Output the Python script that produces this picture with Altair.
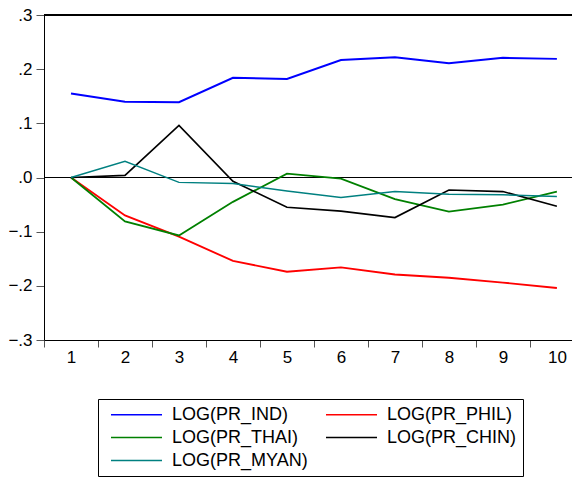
import altair as alt
import pandas as pd

periods = [1, 2, 3, 4, 5, 6, 7, 8, 9, 10]
ind = [0.155, 0.140, 0.139, 0.184, 0.182, 0.217, 0.222, 0.211, 0.221, 0.219]
phil = [0.0, -0.070, -0.109, -0.154, -0.174, -0.166, -0.179, -0.185, -0.194, -0.204]
thai = [0.0, -0.081, -0.107, -0.045, 0.007, -0.002, -0.040, -0.063, -0.050, -0.026]
chin = [0.0, 0.004, 0.096, -0.007, -0.055, -0.062, -0.074, -0.023, -0.026, -0.053]
myan = [0.0, 0.030, -0.009, -0.011, -0.025, -0.037, -0.026, -0.031, -0.032, -0.035]

series_names = ["LOG(PR_IND)", "LOG(PR_PHIL)", "LOG(PR_THAI)", "LOG(PR_CHIN)", "LOG(PR_MYAN)"]
series_values = [ind, phil, thai, chin, myan]
series_colors = ["#0000FF", "#FF0000", "#008000", "#000000", "#008080"]
series_widths = [2.0, 1.5, 1.5, 1.5, 1.5]
# legend is laid out column by column: column 1 = IND, THAI, MYAN; column 2 = PHIL, CHIN
legend_order = ["LOG(PR_IND)", "LOG(PR_THAI)", "LOG(PR_MYAN)", "LOG(PR_PHIL)", "LOG(PR_CHIN)"]
color_of = dict(zip(series_names, series_colors))

y_ticks = [-0.3, -0.2, -0.1, 0.0, 0.1, 0.2, 0.3]
x_boundaries = [0.5, 1.5, 2.5, 3.5, 4.5, 5.5, 6.5, 7.5, 8.5, 9.5]

rows = []
for k, (name, vals) in enumerate(zip(series_names, series_values)):
    for p, v in zip(periods, vals):
        rows.append({"period": p, "value": v, "series": name, "ord": k})
df = pd.DataFrame(rows)

FONT = "Liberation Sans"

x_scale = alt.Scale(domain=[0.5, 10.28], nice=False, zero=False)
y_scale = alt.Scale(domain=[-0.3, 0.3], nice=False, zero=False)

lines = alt.Chart(df).mark_line(clip=True).encode(
    x=alt.X("period:Q", scale=x_scale, title=None,
            axis=alt.Axis(values=x_boundaries, labelExpr="datum.value + 0.5",
                          labelOffset=27, labelFlush=False, labelOverlap=False,
                          tickSize=7, tickColor="#555555", domainColor="#000000",
                          labelFontSize=17, labelFont=FONT, labelColor="#000000",
                          labelPadding=2, grid=False)),
    y=alt.Y("value:Q", scale=y_scale, title=None,
            axis=alt.Axis(values=y_ticks,
                          labelExpr="replace(format(datum.value, '.1f'), '0.', '.')",
                          tickSize=8, tickColor="#555555", domainColor="#000000",
                          labelFontSize=17, labelFont=FONT, labelColor="#000000",
                          labelPadding=4, grid=False, labelFlush=False, labelOverlap=False)),
    color=alt.Color("series:N",
                    scale=alt.Scale(domain=legend_order,
                                    range=[color_of[n] for n in legend_order]),
                    legend=alt.Legend(orient="none", legendX=54, legendY=384,
                                      columns=2, title=None, gridAlign="each",
                                      symbolType="M-3,0H3", symbolSize=289,
                                      symbolStrokeWidth=1.5,
                                      labelFontSize=18, labelFont=FONT, labelColor="#000000",
                                      labelOffset=26, padding=6, symbolOffset=23,
                                      rowPadding=4, columnPadding=11,
                                      strokeColor="#000000", labelLimit=300)),
    strokeWidth=alt.StrokeWidth("series:N",
                                scale=alt.Scale(domain=series_names, range=series_widths),
                                legend=None),
    order=alt.Order("ord:Q"),
    detail="series:N",
)

zero_rule = alt.Chart(df).mark_rule(color="#000000", strokeWidth=1).encode(
    y=alt.datum(0.0, scale=y_scale)
)
top_rule = alt.Chart(df).mark_rule(color="#000000", strokeWidth=1.5).encode(
    y=alt.datum(0.3, scale=y_scale)
)

chart = alt.layer(zero_rule, top_rule, lines).properties(
    width=528, height=325,
    autosize=alt.AutoSizeParams(type="none"),
    padding={"left": 36, "top": 7, "right": 0, "bottom": 138},
).configure_view(stroke=None).configure(background="#FFFFFF")

chart.save("out.html", embed_options={"renderer": "svg", "actions": False})
